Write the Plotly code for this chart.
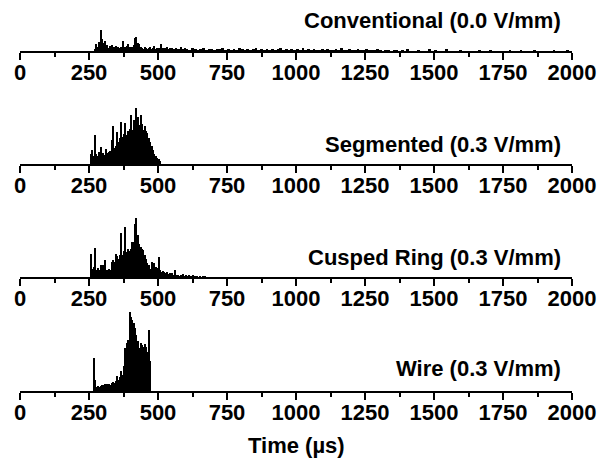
import plotly.graph_objects as go

# ---------------- data (counts per bin) ----------------
bin_width = 5  # µs

conv_start = 270
conv_counts = [2, 7, 4, 9, 21, 12, 8, 10, 4, 6, 3, 5, 6, 3, 4, 5, 3, 4, 3, 4,
               10, 3, 4, 5, 7, 4, 3, 4, 6, 13, 14, 8, 7, 4, 3, 2, 4, 3, 2, 3,
               4, 2, 3, 5, 2, 3, 3, 2, 7, 3, 2, 3, 4, 2, 3, 2, 3, 2, 2, 3,
               2, 2, 4, 2, 2, 3]
conv_tail_start = 600
conv_tail_width = 10  # µs
conv_tail_counts = [2, 1, 3, 2, 1, 2, 3, 1, 2, 2,
                    1, 2, 2, 3, 1, 2, 1, 2, 1, 3,
                    2, 1, 2, 1, 2, 3, 1, 2, 1, 2,
                    1, 2, 1, 2, 3, 1, 2, 1, 2, 1,
                    2, 1, 3, 1, 2, 1, 2, 1, 1, 2,
                    1, 2, 1, 1, 2, 1, 3, 1, 1, 2,
                    1, 1, 2, 1, 1, 2, 1, 1, 1, 2,
                    1, 0, 1, 1, 0, 1, 1, 0, 1, 0,
                    2, 0, 0, 0, 1, 0, 0, 0, 2, 0,
                    1, 0, 0, 0, 2, 0, 0, 0, 0, 1,
                    0, 0, 0, 0, 0, 0, 1, 0, 0, 0,
                    1, 0, 0, 0, 0, 0, 0, 1, 0, 0,
                    0, 1, 0, 0, 0, 0, 1, 0, 0, 0,
                    0, 0, 0, 1, 0, 0, 0, 0, 1, 0]

seg_start = 255
seg_counts = [10, 14, 8, 29, 10, 8, 12, 17, 10, 11, 9, 15, 11, 12, 13, 24, 38, 16,
              18, 32, 22, 26, 42, 27, 30, 41, 29, 33, 35, 49, 34, 44, 38, 56, 47,
              39, 49, 40, 34, 38, 33, 31, 26, 22, 18, 14, 10, 8, 6, 5, 3]

cusp_start = 255
cusp_counts = [23, 8, 10, 29, 7, 9, 7, 12, 11, 12, 17, 6, 7, 8, 7, 15, 17, 15, 23,
               21, 18, 22, 44, 22, 26, 50, 25, 28, 26, 28, 35, 35, 53, 59, 42, 33,
               30, 28, 27, 22, 18, 14, 12, 8, 15, 11, 14, 10, 9, 20, 7, 5, 6, 5,
               4, 5, 3, 4, 3, 4, 2, 7, 2, 2, 1, 2, 1, 3, 1, 2, 1, 2, 1, 1, 2, 1,
               1, 1, 0, 1, 0, 1, 0, 1, 0]

wire_start = 265
wire_counts = [33, 11, 4, 5, 4, 5, 6, 6, 7, 6, 7, 7, 6, 8, 9, 8, 10, 15, 11, 14,
               20, 16, 25, 43, 48, 51, 79, 74, 71, 68, 63, 56, 50, 43, 48, 46, 44,
               47, 44, 39, 61, 30]

panel_titles = ["Conventional (0.0 V/mm)", "Segmented (0.3 V/mm)",
                "Cusped Ring (0.3 V/mm)", "Wire (0.3 V/mm)"]
tick_values = [0, 250, 500, 750, 1000, 1250, 1500, 1750, 2000]
tick_labels = ["0", "250", "500", "750", "1000", "1250", "1500", "1750", "2000"]
x_title = "Time (µs)"

# ---------------- layout geometry (pixels) ----------------
W, H = 600, 463
ML, MR = 20, 28
axis_y_px = [51, 164, 277, 391]      # pixel row of each time axis
panel_h = [50, 90, 90, 90]           # height of each panel (same count scale)
title_y_px = [20, 144, 257, 368]
title_x_px = 563

font_family = "Liberation Sans, Arial, Helvetica, sans-serif"


def centers(start, width, n):
    return [start + width * (i + 0.5) for i in range(n)]


series = [
    [(centers(conv_start, bin_width, len(conv_counts)), conv_counts, bin_width),
     (centers(conv_tail_start, conv_tail_width, len(conv_tail_counts)), conv_tail_counts, conv_tail_width)],
    [(centers(seg_start, bin_width, len(seg_counts)), seg_counts, bin_width)],
    [(centers(cusp_start, bin_width, len(cusp_counts)), cusp_counts, bin_width)],
    [(centers(wire_start, bin_width, len(wire_counts)), wire_counts, bin_width)],
]

fig = go.Figure()
layout = dict(
    width=W, height=H,
    margin=dict(l=ML, r=MR, t=0, b=0, pad=0),
    paper_bgcolor="white", plot_bgcolor="rgba(0,0,0,0)",
    showlegend=False, bargap=0, barmode="overlay",
    font=dict(family=font_family, color="black"),
)

annotations = []
for i in range(4):
    k = "" if i == 0 else str(i + 1)
    for xs, ys, w in series[i]:
        fig.add_trace(go.Bar(
            x=xs, y=ys, width=w, xaxis="x" + k, yaxis="y" + k,
            marker=dict(color="black", line=dict(width=0)),
            hoverinfo="x+y",
        ))
    bottom = (H - axis_y_px[i]) / H
    top = (H - axis_y_px[i] + panel_h[i]) / H
    layout["xaxis" + k] = dict(
        range=[0, 2000], anchor="y" + k, domain=[0, 1],
        showline=True, linecolor="black", linewidth=2,
        showgrid=False, zeroline=False,
        tickmode="array", tickvals=tick_values, ticktext=tick_labels,
        ticks="outside", ticklen=7, tickwidth=2, tickcolor="black",
        minor=dict(dtick=125, tick0=0, ticks="outside", ticklen=4,
                   tickwidth=2, tickcolor="black", showgrid=False),
        tickfont=dict(size=22, family=font_family, color="black", weight="bold"),
        ticklabelstandoff=-6,
        automargin=False, fixedrange=True,
    )
    layout["yaxis" + k] = dict(
        range=[0, panel_h[i]], domain=[bottom, min(top, 1)], anchor="x" + k,
        visible=False, fixedrange=True,
    )
    annotations.append(dict(
        text=panel_titles[i], xref="paper", yref="paper",
        x=(title_x_px - ML) / (W - ML - MR), y=(H - title_y_px[i]) / H,
        xanchor="right", yanchor="middle", showarrow=False,
        font=dict(size=22, family=font_family, color="black", weight="bold"),
    ))

annotations.append(dict(
    text=x_title, xref="paper", yref="paper",
    x=(296.5 - ML) / (W - ML - MR), y=(H - 445) / H,
    xanchor="center", yanchor="middle", showarrow=False,
    font=dict(size=22, family=font_family, color="black", weight="bold"),
))
layout["annotations"] = annotations
fig.update_layout(**layout)

fig.write_html(
    "out.html",
    config={"displayModeBar": False},
    post_script="document.body.style.margin='0';document.body.style.padding='0';",
)
